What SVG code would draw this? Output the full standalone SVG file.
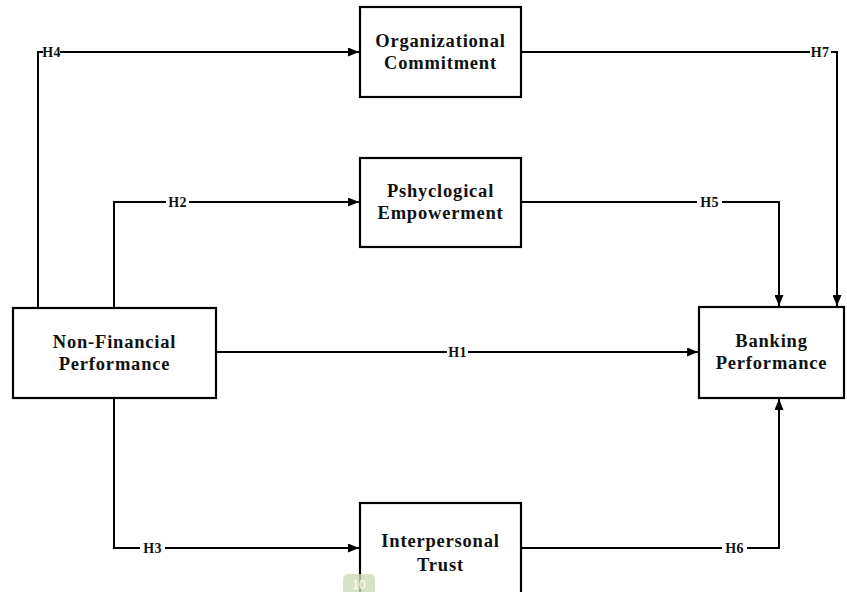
<svg xmlns="http://www.w3.org/2000/svg" width="847" height="592" viewBox="0 0 847 592">
<style>
.box{fill:#fff;stroke:#000;stroke-width:2.2}
.t{font-family:"Liberation Serif","Times New Roman",serif;font-weight:bold;font-size:18.5px;letter-spacing:0.8px;text-anchor:middle;fill:#111}
.l{font-family:"Liberation Serif","Times New Roman",serif;font-weight:bold;font-size:14px;letter-spacing:0.3px;text-anchor:middle;fill:#111}
.c{fill:none;stroke:#000;stroke-width:2}
.bg{fill:#fff}
</style>
<defs>
<marker id="a" viewBox="0 0 11 9" refX="11" refY="4.5" markerWidth="11" markerHeight="9" markerUnits="userSpaceOnUse" orient="auto">
<path d="M0,0L11,4.5L0,9z" fill="#000"/>
</marker>
</defs>
<g id="connectors">
<path class="c" d="M38,308V52H359" marker-end="url(#a)"/>
<path class="c" d="M521,52H837V306" marker-end="url(#a)"/>
<path class="c" d="M114,308V202H359" marker-end="url(#a)"/>
<path class="c" d="M521,202H779V306" marker-end="url(#a)"/>
<path class="c" d="M216,352H698" marker-end="url(#a)"/>
<path class="c" d="M114,398V548H359" marker-end="url(#a)"/>
<path class="c" d="M521,548H779V399" marker-end="url(#a)"/>
<rect class="bg" x="43" y="45" width="17" height="14"/>
<text class="l" x="51.5" y="57">H4</text>
<rect class="bg" x="810" y="45" width="21" height="14"/>
<text class="l" x="820" y="57">H7</text>
<rect class="bg" x="166" y="195" width="23" height="14"/>
<text class="l" x="177.5" y="207">H2</text>
<rect class="bg" x="697" y="195" width="25" height="14"/>
<text class="l" x="709.5" y="207">H5</text>
<rect class="bg" x="447" y="345" width="21" height="14"/>
<text class="l" x="457.5" y="357">H1</text>
<rect class="bg" x="140" y="541" width="25" height="14"/>
<text class="l" x="152.5" y="553">H3</text>
<rect class="bg" x="722" y="541" width="25" height="14"/>
<text class="l" x="734.5" y="553">H6</text>
</g>
<g id="org">
<rect class="box" x="360" y="7" width="161" height="90"/>
<text class="t" x="440.5" y="47">Organizational</text>
<text class="t" x="440.5" y="69">Commitment</text>
</g>
<g id="psy">
<rect class="box" x="360" y="158" width="161" height="89"/>
<text class="t" x="440.5" y="197">Pshyclogical</text>
<text class="t" x="440.5" y="219">Empowerment</text>
</g>
<g id="nfp">
<rect class="box" x="13" y="308" width="203" height="90"/>
<text class="t" x="114.5" y="348">Non-Financial</text>
<text class="t" x="114.5" y="370">Performance</text>
</g>
<g id="bank">
<rect class="box" x="699" y="307" width="145" height="91"/>
<text class="t" x="771.5" y="347">Banking</text>
<text class="t" x="771.5" y="369">Performance</text>
</g>
<g id="trust">
<rect class="box" x="360" y="503" width="161" height="100"/>
<text class="t" x="440.5" y="547">Interpersonal</text>
<text class="t" x="440.5" y="571">Trust</text>
</g>
<g id="watermark">
<rect x="343" y="574" width="32" height="22" rx="5" fill="#cddbb5" opacity="0.8"/>
<text x="359" y="589" font-family="Liberation Sans, Arial, sans-serif" font-size="12" fill="#fff" text-anchor="middle">10</text>
</g>
</svg>
